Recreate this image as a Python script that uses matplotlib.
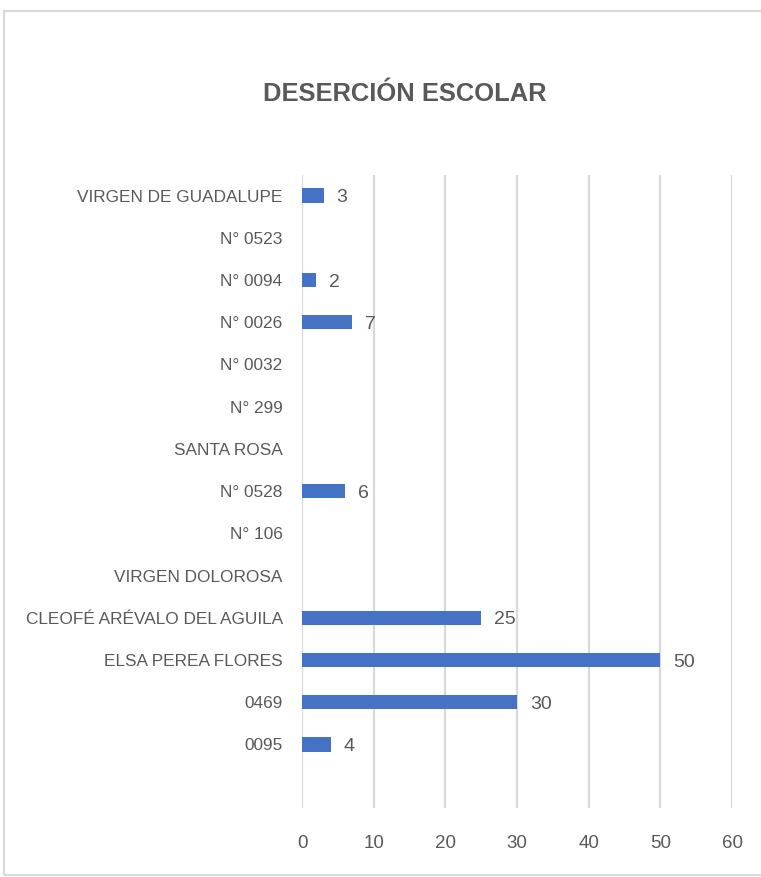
import numpy as np
import matplotlib.pyplot as plt
from matplotlib.patches import Rectangle

schools = ['0095', '0469', 'ELSA PEREA FLORES', 'CLEOFÉ ARÉVALO DEL AGUILA',
           'VIRGEN DOLOROSA', 'N° 106', 'N° 0528', 'SANTA ROSA', 'N° 299',
           'N° 0032', 'N° 0026', 'N° 0094', 'N° 0523', 'VIRGEN DE GUADALUPE']
dropouts = [4, 30, 50, 25, np.nan, np.nan, 6, np.nan, np.nan,
            np.nan, 7, 2, np.nan, 3]
xticks = [0, 10, 20, 30, 40, 50, 60]

plt.rcParams['font.family'] = ['Liberation Sans', 'DejaVu Sans']
gray = '#595959'

fig = plt.figure(figsize=(7.61, 8.77), dpi=100)
ax = fig.add_axes([0.397, 0.079, 0.565, 0.722])

y = np.arange(len(schools))
vals = np.array(dropouts, dtype=float)
ax.barh(y, np.nan_to_num(vals), height=0.34, color='#4472C4')
for yi, v in zip(y, vals):
    if not np.isnan(v):
        ax.text(v + 1.8, yi - 0.05, f'{int(v)}', va='center', ha='left',
                fontsize=14, color=gray)

ax.set_yticks(y)
ax.set_yticklabels(schools, fontsize=12.4, color=gray)
ax.set_ylim(-1.5, len(schools) - 0.5)
ax.set_xlim(0, 60)
ax.set_xticks(xticks)
ax.set_xticklabels([str(t) for t in xticks], fontsize=13.5, color=gray)
ax.tick_params(axis='both', length=0)
ax.tick_params(axis='x', pad=20)
ax.tick_params(axis='y', pad=14)
ax.grid(axis='x', color='#d9d9d9', lw=1.6)
ax.set_axisbelow(True)
for s in ax.spines.values():
    s.set_visible(False)

fig.text(0.532, 0.893, 'DESERCIÓN ESCOLAR', ha='center', va='center',
         fontsize=18.4, fontweight='bold', color=gray)

fig.patches.append(Rectangle((4 / 761, 2 / 877), 1.0, 1 - 13 / 877,
                             transform=fig.transFigure, fill=False,
                             edgecolor='#d9d9d9', lw=1.5))

fig.savefig('out.png', dpi=100)
